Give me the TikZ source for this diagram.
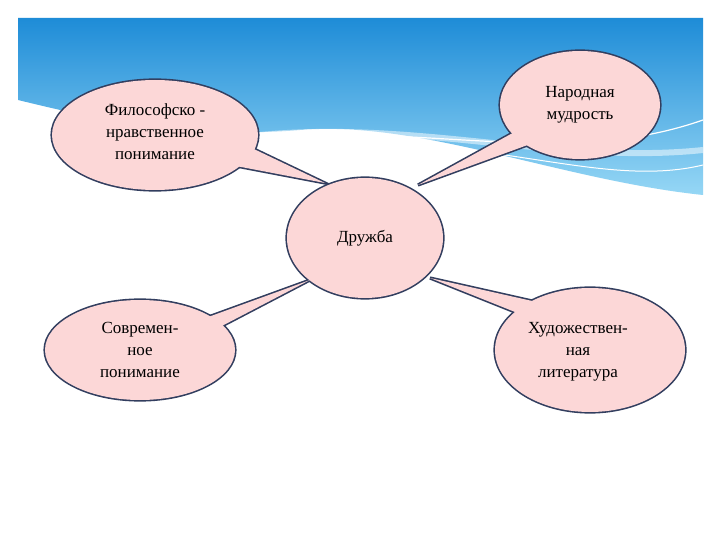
\documentclass[tikz,border=0pt]{standalone}
\usepackage{fontspec}
\setmainfont{Liberation Serif}
\usetikzlibrary{shapes.geometric}
\begin{document}
\begin{tikzpicture}[x=1pt,y=-1pt,
  pass1/.style={draw=bline,line width=3.2pt,line join=miter},
  pass2/.style={fill=bfill},
  txt/.style={font=\fontsize{17}{22}\selectfont, align=center, text=black}]
\useasboundingbox (0,0) rectangle (720,540);
\fill[white] (0,0) rectangle (720,540);
\shade[top color={rgb,255:red,30;green,140;blue,215}, bottom color={rgb,255:red,150;green,215;blue,245}]
  (18,18) -- (703,18) -- (703,195) .. controls (560,180) and (420,120) .. (300,130)
  .. controls (180,140) and (80,115) .. (18,100) -- cycle;
\draw[white, line width=1.2pt] (250,140) .. controls (420,120) and (560,170) .. (703,120);
\draw[white, line width=1pt] (330,150) .. controls (480,130) and (600,190) .. (703,165);
\draw[white, line width=6pt, opacity=0.5] (260,135) .. controls (420,120) and (560,165) .. (703,150);
\definecolor{bfill}{RGB}{252,215,215}
\definecolor{bline}{RGB}{50,62,95}
\coordinate (t1) at (325,183);
\coordinate (t2) at (418,185);
\coordinate (t3) at (310,280);
\coordinate (t4) at (430,278);
\foreach \st in {pass1, pass2}{
  \path[\st] (215,162) -- (t1) -- (235,140) -- cycle;
  \path[\st] (540,118) -- (t2) -- (555,135) -- cycle;
  \path[\st] (195,340) -- (t3) -- (200,320) -- cycle;
  \path[\st] (540,322) -- (t4) -- (550,305) -- cycle;
  \path[\st] (155,135) ellipse [x radius=103, y radius=55];
  \path[\st] (580,105) ellipse [x radius=80, y radius=54];
  \path[\st] (365,238) ellipse [x radius=78, y radius=60];
  \path[\st] (140,350) ellipse [x radius=95, y radius=50];
  \path[\st] (590,350) ellipse [x radius=95, y radius=62];
}
\node[txt] (phil) at (155,132) {Философско -\\нравственное\\понимание};
\node[txt] (nar) at (580,105) {Народная\\мудрость};
\node[txt] (dr) at (365,238) {Дружба};
\node[txt] (sov) at (140,350) {Современ-\\ное\\понимание};
\node[txt] (hud) at (578,352) {Художествен-\\ная\\литература};
\end{tikzpicture}
\end{document}
